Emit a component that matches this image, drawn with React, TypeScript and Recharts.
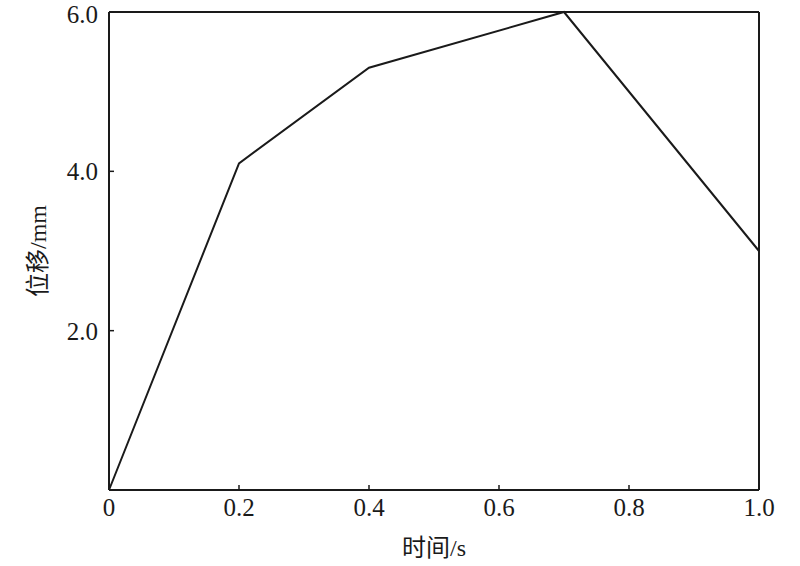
import React from "react";
import {
  LineChart,
  Line,
  XAxis,
  YAxis,
  ReferenceLine,
  Label,
} from "recharts";

// displacement curve
const times = [0, 0.2, 0.4, 0.7, 1.0];
const displacement = [0, 4.1, 5.3, 6.0, 3.0];

const xTicks = [0, 0.2, 0.4, 0.6, 0.8, 1.0];
const yTicks = [2, 4, 6];

const data = times.map((t, i) => ({ t, d: displacement[i] }));

const FONT = '"Liberation Serif", "Noto Sans CJK SC", serif';
const INK = "#1a1a1a";

export default function App() {
  return (
    <div style={{ position: "absolute", left: 0, top: 0, background: "#fff" }}>
      <LineChart
        width={800}
        height={566}
        data={data}
        margin={{ top: 12, right: 41, bottom: 36, left: 49 }}
      >
        <XAxis
          dataKey="t"
          type="number"
          domain={[0, 1]}
          ticks={xTicks}
          tickFormatter={(v: number) => (v === 0 ? "0" : v.toFixed(1))}
          height={40}
          tickSize={-5}
          tickMargin={13}
          axisLine={{ stroke: INK, strokeWidth: 2 }}
          tickLine={{ stroke: INK, strokeWidth: 1.5 }}
          tick={{ fill: INK, fontSize: 25, fontFamily: FONT }}
        >
          <Label
            value="时间/s"
            position="bottom"
            offset={9}
            style={{ fill: INK, fontSize: 24, fontFamily: FONT }}
          />
        </XAxis>
        <YAxis
          type="number"
          domain={[0, 6]}
          ticks={yTicks}
          tickFormatter={(v: number) => v.toFixed(1)}
          width={60}
          tickSize={-5}
          tickMargin={16}
          axisLine={{ stroke: INK, strokeWidth: 2 }}
          tickLine={{ stroke: INK, strokeWidth: 1.5 }}
          tick={{ fill: INK, fontSize: 25, fontFamily: FONT }}
        >
          <Label
            value="位移/mm"
            angle={-90}
            position="left"
            offset={12}
            style={{ fill: INK, fontSize: 24, fontFamily: FONT, textAnchor: "middle" }}
          />
        </YAxis>
        <ReferenceLine y={6} stroke={INK} strokeWidth={2} />
        <ReferenceLine x={1} stroke={INK} strokeWidth={2} />
        <Line
          type="linear"
          dataKey="d"
          stroke={INK}
          strokeWidth={2}
          dot={false}
          isAnimationActive={false}
        />
      </LineChart>
    </div>
  );
}
